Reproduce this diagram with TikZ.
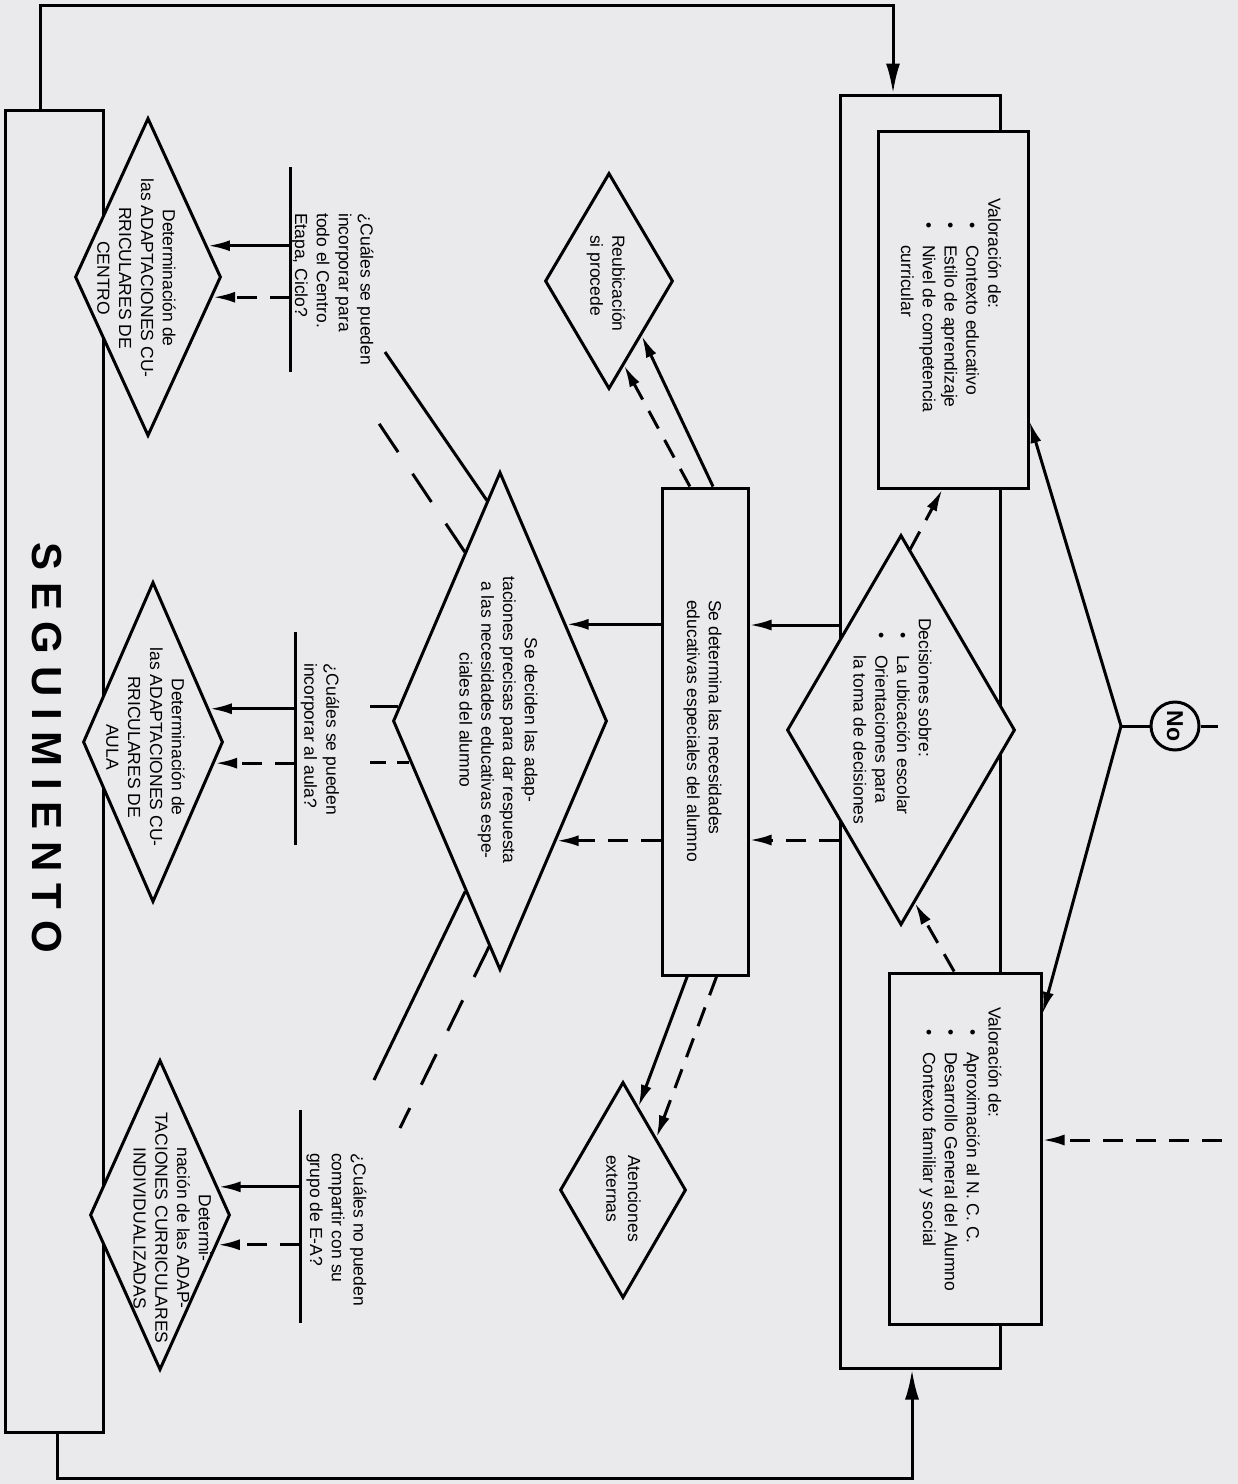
\documentclass[tikz,border=0pt]{standalone}
\usepackage{fontspec}
\setmainfont{Liberation Sans}
\usetikzlibrary{shapes.geometric,arrows.meta,calc}
\definecolor{paper}{RGB}{234,234,236}
\newcommand{\bl}[2]{\makebox[#2][l]{\hspace{#1}\textbullet}}
\begin{document}
\begin{tikzpicture}[x=1pt,y=-1pt,
  ln/.style={line width=3pt},
  box/.style={draw,ln,fill=paper,rectangle,inner sep=0pt},
  dia/.style={draw,ln,fill=paper,diamond,inner sep=0pt},
  txt/.style={rotate=-90,inner sep=0pt,font=\fontsize{17.5}{21.8}\selectfont},
  arr/.style={ln,-{Latex[length=22pt,width=11pt]}},
  bigarr/.style={ln,-{Latex[length=30pt,width=14pt]}},
  dsh/.style={dash pattern=on 20pt off 13pt},
  ldsh/.style={dash pattern=on 34pt off 26pt},
]
\fill[paper] (0,0) rectangle (1238,1484);
\useasboundingbox (0,0) rectangle (1238,1484);

% boxes
\node[box,minimum width=98pt,minimum height=1322pt] (seg) at (54,771) {};
\node[box,minimum width=160pt,minimum height=1273pt] (bigR) at (920,731.5) {};
\node[box,minimum width=150pt,minimum height=357pt] (valA) at (953,309.5) {};
\node[box,minimum width=152pt,minimum height=351pt] (valB) at (965,1148.5) {};
\node[dia,minimum width=228pt,minimum height=390pt] (dec) at (901,730) {};
\node[box,minimum width=86pt,minimum height=487pt] (sedet) at (705,731.5) {};
\node[dia,minimum width=128pt,minimum height=216pt] (reub) at (609,281) {};
\node[dia,minimum width=126pt,minimum height=216pt] (aten) at (623,1190) {};
\node[dia,minimum width=214pt,minimum height=498pt] (sedec) at (500,721) {};
\node[dia,minimum width=146pt,minimum height=318pt] (centro) at (148,277) {};
\node[dia,minimum width=140pt,minimum height=320pt] (aula) at (153,742) {};
\node[dia,minimum width=140pt,minimum height=310pt] (indiv) at (160,1215) {};
\node[circle,draw,ln,fill=paper,minimum size=48pt,inner sep=0pt,rotate=-90,
      font=\fontsize{23}{23}\bfseries\selectfont] (no) at (1175,726) {No};

% texts
\node[rotate=-90,inner sep=0pt,font=\fontsize{42}{42}\bfseries\selectfont] (segtxt) at (47,748) {S E G U I M I E N T O};
\node[txt,anchor=west,align=left] (tA) at (951,198) {Valoración de:\\
  \bl{24pt}{47pt}Contexto educativo\\
  \bl{24pt}{47pt}Estilo de aprendizaje\\
  \bl{24pt}{47pt}Nivel de competencia\\
  \hspace*{47pt}curricular};
\node[txt,anchor=west,align=left] (tB) at (960.5,1007) {Valoración de:\\
  \bl{22pt}{45pt}Aproximación al N. C. C.\\
  \bl{22pt}{45pt}Desarrollo General del Alumno\\
  \bl{22pt}{45pt}Contexto familiar y social};
\node[txt,anchor=west,align=left] (tDec) at (892.5,618) {Decisiones sobre:\\
  \bl{14pt}{37pt}La ubicación escolar\\
  \bl{14pt}{37pt}Orientaciones para\\
  \hspace*{37pt}la toma de decisiones};
\node[txt,anchor=west,align=left] (tSedet) at (702.5,600) {Se determina las necesidades\\educativas especiales del alumno};
\node[txt,align=center] (tSedec) at (498.5,720) {Se deciden las adap-\\taciones precisas para dar respuesta\\a las necesidades educativas espe-\\ciales del alumno};
\node[txt,anchor=west,align=left] (tReub) at (606,235) {Reubicación\\si procede};
\node[txt,anchor=west,align=left] (tAten) at (623.5,1155) {Atenciones\\externas};
\node[txt,align=center] (tCentro) at (136.5,278) {Determinación de\\las ADAPTACIONES CU-\\RRICULARES DE\\CENTRO};
\node[txt,align=center] (tAula) at (145.5,747) {Determinación de\\las ADAPTACIONES CU-\\RRICULARES DE\\AULA};
\node[txt,align=center] (tIndiv) at (172.5,1228) {Determi-\\nación de las ADAP-\\TACIONES CURRICULARES\\INDIVIDUALIZADAS};
\node[txt,anchor=west,align=left] (qA) at (332.5,213) {¿Cuáles se pueden\\incorporar para\\todo el Centro.\\Etapa, Ciclo?};
\node[txt,anchor=west,align=left] (qB) at (320,663) {¿Cuáles se pueden\\incorporar al aula?};
\node[txt,anchor=west,align=left] (qC) at (336.5,1153) {¿Cuáles no pueden\\compartir con su\\grupo de E-A?};

% loop
\coordinate (topL) at (40,5); \coordinate (topR) at (893,5);
\draw[bigarr] (seg.north -| topL) -- (topL) -- (topR) -- (bigR.north -| topR);
\coordinate (botL) at (57,1478); \coordinate (botR) at (912,1478);
\draw[bigarr] (seg.south -| botL) -- (botL) -- (botR) -- (bigR.south -| botR);

% No branch
\coordinate (J) at (1121,726); \coordinate (noE) at (1218,726);
\draw[ln] (J) -- (no);
\draw[ln] (no) -- (noE);
\draw[arr] (J) -- ($(valA.north east)!0.81!(valA.south east)$);
\draw[arr] (J) -- ($(valB.north east)!0.12!(valB.south east)$);
\coordinate (dR) at (1222,1140);
\draw[arr,dsh] (dR) -- (valB.east |- dR);

% decision <-> valoraciones
\draw[arr,dsh] ($(dec.north)!0.08!(dec.east)$) -- ($(valA.south west)!0.43!(valA.south east)$);
\draw[arr,dsh] ($(valB.north west)!0.43!(valB.north east)$) -- ($(dec.south)!0.12!(dec.east)$);

% bigR -> sedet
\coordinate (y1) at (0,625); \coordinate (y2) at (0,840);
\draw[arr] (bigR.west |- y1) -- (sedet.east |- y1);
\draw[arr,dsh] (bigR.west |- y2) -- (sedet.east |- y2);

% sedet -> sedec
\coordinate (s1) at ($(sedec.east)!0.386!(sedec.north)$);
\coordinate (s2) at ($(sedec.east)!0.478!(sedec.south)$);
\draw[arr] (sedet.west |- s1) -- (s1);
\draw[arr,dsh] (sedet.west |- s2) -- (s2);

% sedet -> reub / aten
\draw[arr] ($(sedet.north west)!0.59!(sedet.north east)$) -- ($(reub.south)!0.5!(reub.east)$);
\draw[arr,dsh] ($(sedet.north west)!0.33!(sedet.north east)$) -- ($(reub.south)!0.23!(reub.east)$);
\draw[arr] ($(sedet.south west)!0.3!(sedet.south east)$) -- ($(aten.north)!0.24!(aten.east)$);
\draw[arr,dsh] ($(sedet.south west)!0.63!(sedet.south east)$) -- ($(aten.north)!0.52!(aten.east)$);

% sedec -> question lines
\coordinate (l1) at (385,352); \coordinate (l2) at (370,410);
\coordinate (l3) at (370,707); \coordinate (l4) at (370,762);
\coordinate (l5) at (374,1080); \coordinate (l6) at (400,1128);
\draw[ln] ($(sedec.north)!0.12!(sedec.west)$) -- (l1);
\draw[ln,ldsh] ($(sedec.north)!0.325!(sedec.west)$) -- (l2);
\coordinate (m1) at ($(sedec.north)!0.944!(sedec.west)$);
\coordinate (m2) at ($(sedec.west)!0.165!(sedec.south)$);
\draw[ln] (m1) -- (m1 -| l3);
\draw[ln,dash pattern=on 16pt off 11pt] (m2 -| l4) -- (m2);
\draw[ln] ($(sedec.west)!0.68!(sedec.south)$) -- (l5);
\draw[ln,ldsh] ($(sedec.west)!0.9!(sedec.south)$) -- (l6);

% question bars
\coordinate (bAt) at (290,167); \coordinate (bAb) at (290,372);
\coordinate (bBt) at (295,632); \coordinate (bBb) at (295,845);
\coordinate (bCt) at (300,1110); \coordinate (bCb) at (300,1323);
\draw[ln] (bAt) -- (bAb);
\draw[ln] (bBt) -- (bBb);
\draw[ln] (bCt) -- (bCb);

% bars -> diamonds
\coordinate (c1) at ($(centro.east)!0.195!(centro.north)$);
\coordinate (c2) at ($(centro.east)!0.126!(centro.south)$);
\draw[arr] (bAt |- c1) -- (c1);
\draw[arr,dsh] (bAt |- c2) -- (c2);
\coordinate (a1) at ($(aula.east)!0.206!(aula.north)$);
\coordinate (a2) at ($(aula.east)!0.131!(aula.south)$);
\draw[arr] (bBt |- a1) -- (a1);
\draw[arr,dsh] (bBt |- a2) -- (a2);
\coordinate (i1) at ($(indiv.east)!0.18!(indiv.north)$);
\coordinate (i2) at ($(indiv.east)!0.19!(indiv.south)$);
\draw[arr] (bCt |- i1) -- (i1);
\draw[arr,dsh] (bCt |- i2) -- (i2);
\end{tikzpicture}
\end{document}
